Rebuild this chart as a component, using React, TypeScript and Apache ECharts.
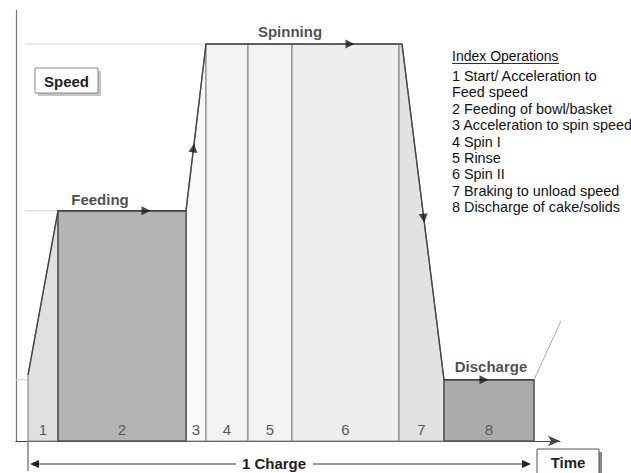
import React, { useEffect, useRef } from "react";
import * as echarts from "echarts";

// Phase index numbers shown at the bottom of each band
const phaseNumbers = ["1", "2", "3", "4", "5", "6", "7", "8"];
// Time at which each phase starts / ends (arbitrary time units)
const phaseStart = [12, 42, 170, 190, 232, 276, 383, 428];
const phaseEnd = [42, 170, 190, 232, 276, 383, 428, 518];
// Speed outline over each phase: [time, speed] pairs
const phaseTops: number[][][] = [
  [[12, 15.3], [42, 53.4]],
  [[42, 53.4], [170, 53.4]],
  [[170, 53.4], [190, 92.1]],
  [[190, 92.1], [232, 92.1]],
  [[232, 92.1], [276, 92.1]],
  [[276, 92.1], [383, 92.1]],
  [[383, 92.1], [386, 92.1], [428, 14.2]],
  [[428, 14.2], [518, 14.2]],
];
const phaseFills = ["#e0e0e0", "#b4b4b4", "#f8f8f8", "#f3f3f3", "#f3f3f3", "#eeeeee", "#e2e2e2", "#aaaaaa"];
const phaseDark = [false, true, false, false, false, false, false, true];
// drawing order: light bands first, dark bands on top
const drawOrder = [0, 2, 3, 4, 5, 6, 1, 7];

// Direction arrows on the speed curve
const arrowTimes = [130, 177.5, 334, 407.7, 468];
const arrowSpeeds = [53.4, 68.0, 92.1, 51.7, 14.2];
const arrowRotations = [-90, -7, -90, 187, -90];

// Stage captions
const stageNames = ["Feeding", "Spinning", "Discharge"];
const stageTimes = [84, 274, 475];
const stageSpeeds = [56.1, 94.9, 17.2];

// Faint guide lines at the speed levels
const guideLines: number[][][] = [
  [[9, 92.1], [190, 92.1]],
  [[9, 53.4], [42, 53.4]],
  [[0, 14.2], [274, 14.2]],
];
const outletLine = [[518, 14.2], [550, 30.4]];

const legendTitle = "Index Operations";
const legendLines = [
  "1 Start/ Acceleration to",
  "Feed speed",
  "2 Feeding of bowl/basket",
  "3 Acceleration to spin speed",
  "4 Spin I",
  "5 Rinse",
  "6 Spin II",
  "7 Braking to unload speed",
  "8 Discharge of cake/solids",
];

const FONT = '"Liberation Sans", Arial, sans-serif';

export default function App() {
  const ref = useRef<HTMLDivElement>(null);
  useEffect(() => {
    if (!ref.current) return;
    const chart = echarts.init(ref.current, null, { renderer: "svg" });
    const outline: number[][] = [];
    phaseTops.forEach((tops, i) => {
      tops.forEach((p, j) => {
        if (i === 0 || j > 0) outline.push(p);
      });
    });
    const option: any = {
      animation: false,
      backgroundColor: "#ffffff",
      grid: { left: 16, top: 10, width: 544, height: 431 },
      xAxis: {
        type: "value",
        min: 0,
        max: 544,
        axisLine: {
          show: true,
          lineStyle: { color: "#444", width: 1.2 },
          symbol: ["none", "arrow"],
          symbolSize: [8, 12],
        },
        axisTick: { show: false },
        axisLabel: { show: false },
        splitLine: { show: false },
      },
      yAxis: {
        type: "value",
        min: 0,
        max: 100,
        axisLine: { show: true, lineStyle: { color: "#777", width: 1.2 } },
        axisTick: { show: false },
        axisLabel: { show: false },
        splitLine: { show: false },
      },
      series: [
        ...guideLines.map((g) => ({
          type: "line",
          data: g,
          symbol: "none",
          silent: true,
          lineStyle: { color: "#d2d2d2", width: 1 },
          z: 1,
        })),
        {
          type: "custom",
          z: 2,
          data: drawOrder.map((i) => [phaseStart[i], phaseEnd[i], i]),
          encode: { x: [0, 1] },
          renderItem: (params: any, api: any) => {
            const i = api.value(2);
            const pts = [
              api.coord([phaseStart[i], 0]),
              ...phaseTops[i].map((p) => api.coord(p)),
              api.coord([phaseEnd[i], 0]),
            ];
            const lp = api.coord([(phaseStart[i] + phaseEnd[i]) / 2, 2.6]);
            return {
              type: "group",
              children: [
                {
                  type: "polygon",
                  shape: { points: pts },
                  style: {
                    fill: phaseFills[i],
                    stroke: phaseDark[i] ? "#555" : "#8c8c8c",
                    lineWidth: phaseDark[i] ? 1.6 : 1.2,
                  },
                },
                {
                  type: "text",
                  x: lp[0],
                  y: lp[1],
                  style: {
                    text: phaseNumbers[i],
                    fill: "#5a5a5a",
                    font: `15px ${FONT}`,
                    align: "center",
                    verticalAlign: "middle",
                  },
                },
              ],
            };
          },
        },
        {
          type: "line",
          data: outline,
          symbol: "none",
          silent: true,
          lineStyle: { color: "#444", width: 1.4 },
          z: 3,
        },
        {
          type: "line",
          data: outletLine,
          symbol: "none",
          silent: true,
          lineStyle: { color: "#aaa", width: 1 },
          z: 3,
        },
        {
          type: "scatter",
          z: 4,
          symbol: "triangle",
          symbolSize: [9, 9],
          itemStyle: { color: "#1a1a1a" },
          data: arrowTimes.map((t, k) => ({
            value: [t, arrowSpeeds[k]],
            symbolRotate: arrowRotations[k],
          })),
        },
        {
          type: "scatter",
          z: 5,
          symbolSize: 0,
          label: {
            show: true,
            position: "inside",
            formatter: "{b}",
            fontFamily: FONT,
            fontSize: 15,
            fontWeight: "bold",
            color: "#1e1e1e",
          },
          data: stageNames.map((n, k) => ({ name: n, value: [stageTimes[k], stageSpeeds[k]] })),
        },
      ],
    };
    chart.setOption(option);

    const left = chart.convertToPixel({ gridIndex: 0 }, [phaseStart[0], 0]) as number[];
    const right = chart.convertToPixel({ gridIndex: 0 }, [phaseEnd[phaseEnd.length - 1], 0]) as number[];
    const xL = left[0];
    const xR = right[0] - 3;
    const yA = 464;
    const graphics: any[] = [
      // charge marker
      { type: "line", shape: { x1: xL, y1: left[1], x2: xL, y2: 471 }, style: { stroke: "#666", lineWidth: 1.2 } },
      { type: "line", shape: { x1: xL + 8, y1: yA, x2: 236, y2: yA }, style: { stroke: "#333", lineWidth: 1.2 } },
      { type: "line", shape: { x1: 313, y1: yA, x2: xR - 8, y2: yA }, style: { stroke: "#333", lineWidth: 1.2 } },
      { type: "polygon", shape: { points: [[xL + 2, yA], [xL + 11, yA - 4], [xL + 11, yA + 4]] }, style: { fill: "#222" } },
      { type: "polygon", shape: { points: [[xR, yA], [xR - 9, yA - 4], [xR - 9, yA + 4]] }, style: { fill: "#222" } },
      {
        type: "text",
        x: 274,
        y: yA - 1,
        style: { text: "1 Charge", font: `bold 15px ${FONT}`, fill: "#1e1e1e", align: "center", verticalAlign: "middle" },
      },
      // Speed box
      { type: "rect", shape: { x: 38, y: 71, width: 63, height: 25 }, style: { fill: "#c4c4c4" } },
      { type: "rect", shape: { x: 35, y: 68, width: 63, height: 25 }, style: { fill: "#fff", stroke: "#888", lineWidth: 1 } },
      {
        type: "text",
        x: 66.5,
        y: 81,
        style: { text: "Speed", font: `bold 15px ${FONT}`, fill: "#1e1e1e", align: "center", verticalAlign: "middle" },
      },
      // Time box
      { type: "rect", shape: { x: 540, y: 452, width: 62, height: 25 }, style: { fill: "#8a8a8a" } },
      { type: "rect", shape: { x: 537, y: 449, width: 62, height: 25 }, style: { fill: "#fff", stroke: "#555", lineWidth: 1 } },
      {
        type: "text",
        x: 568,
        y: 462,
        style: { text: "Time", font: `bold 15px ${FONT}`, fill: "#1e1e1e", align: "center", verticalAlign: "middle" },
      },
      // legend
      {
        type: "text",
        x: 452,
        y: 56,
        style: { text: legendTitle, font: `14px ${FONT}`, fill: "#111", align: "left", verticalAlign: "middle" },
      },
      { type: "line", shape: { x1: 452, y1: 63.5, x2: 559, y2: 63.5 }, style: { stroke: "#333", lineWidth: 1 } },
      ...legendLines.map((t, k) => ({
        type: "text",
        x: 452,
        y: 76 + k * 16.4,
        style: { text: t, font: `14.4px ${FONT}`, fill: "#111", align: "left", verticalAlign: "middle" },
      })),
    ];
    chart.setOption({ graphic: graphics });
    return () => chart.dispose();
  }, []);
  return (
    <div
      ref={ref}
      style={{ position: "fixed", left: 0, top: 0, width: 631, height: 473, background: "#fff" }}
    />
  );
}
